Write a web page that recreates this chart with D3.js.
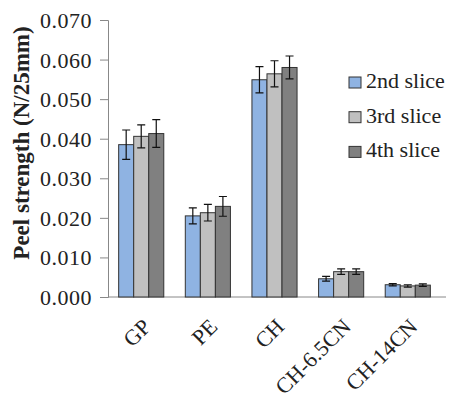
<!DOCTYPE html>
<html>
<head>
<meta charset="utf-8">
<script src="https://cdn.jsdelivr.net/npm/d3@7"></script>
<style>
  body { margin: 0; background: #fff; }
</style>
</head>
<body>
<div class="barchart"></div>
<script>
// chart data
const categories = ["GP", "PE", "CH", "CH-6.5CN", "CH-14CN"];
const seriesNames = ["2nd slice", "3rd slice", "4th slice"];
const slice2 = [0.0385, 0.0205, 0.0549, 0.0046, 0.0031];
const slice3 = [0.0406, 0.0213, 0.0564, 0.0064, 0.0028];
const slice4 = [0.0413, 0.0229, 0.0580, 0.0064, 0.0030];
const err2 = [0.0037, 0.0020, 0.0033, 0.0006, 0.0003];
const err3 = [0.0029, 0.0021, 0.0033, 0.0007, 0.0003];
const err4 = [0.0035, 0.0025, 0.0029, 0.0007, 0.0003];
const yTicks = [0, 0.01, 0.02, 0.03, 0.04, 0.05, 0.06, 0.07];

const colors = ["#8fb3e2", "#c0c0c0", "#808080"];
const values = [slice2, slice3, slice4];
const errors = [err2, err3, err4];

const width = 449, height = 395;
const serif = "'Liberation Serif', 'DejaVu Serif', serif";

let svg = d3.select(".barchart")
    .append("svg")
    .attr("width", width)
    .attr("height", height);

// scales
let xScale = d3.scaleBand()
    .domain(categories)
    .range([108, 441])
    .paddingInner(0.323)
    .paddingOuter(0.16);

let xSub = d3.scaleBand()
    .domain(seriesNames)
    .range([0, xScale.bandwidth()]);

let yScale = d3.scaleLinear()
    .domain([0, 0.07])
    .range([297, 20]);

// y axis
let yAxis = svg.append("g")
    .attr("transform", "translate(108,0)")
    .call(d3.axisLeft(yScale).tickValues(yTicks).tickFormat(d3.format(".3f")).tickSize(8).tickPadding(8));
yAxis.attr("font-family", null).attr("font-size", null);
yAxis.select(".domain").attr("stroke", "#888");
yAxis.selectAll(".tick line").attr("stroke", "#888");
yAxis.selectAll(".tick text")
    .style("font-family", serif)
    .style("font-size", "22px")
    .style("letter-spacing", "0.5px")
    .attr("fill", "#222")
    .attr("dy", "0.34em");

// x axis line
svg.append("line")
    .attr("x1", 108).attr("x2", 446)
    .attr("y1", yScale(0)).attr("y2", yScale(0))
    .attr("stroke", "#888");

// bars
let groups = svg.selectAll(".group")
    .data(categories)
    .enter()
    .append("g")
    .attr("class", "group")
    .attr("transform", d => "translate(" + xScale(d) + ",0)");

seriesNames.forEach(function(s, si){
    groups.append("rect")
        .attr("x", xSub(s))
        .attr("y", (d, i) => yScale(values[si][i]))
        .attr("width", xSub.bandwidth())
        .attr("height", (d, i) => yScale(0) - yScale(values[si][i]))
        .attr("fill", colors[si])
        .attr("stroke", "#333")
        .attr("stroke-width", 1);

    // error bars
    let cx = xSub(s) + xSub.bandwidth() / 2;
    groups.append("path")
        .attr("d", function(d, i){
            let top = yScale(values[si][i] + errors[si][i]);
            let bot = yScale(values[si][i] - errors[si][i]);
            return "M" + cx + "," + top + "V" + bot +
                "M" + (cx - 4) + "," + top + "H" + (cx + 4) +
                "M" + (cx - 4) + "," + bot + "H" + (cx + 4);
        })
        .attr("stroke", "#111")
        .attr("stroke-width", 1.2)
        .attr("fill", "none");
});

// x labels
svg.selectAll(".xlabel")
    .data(categories)
    .enter()
    .append("text")
    .attr("class", "xlabel")
    .attr("text-anchor", "end")
    .attr("transform", d => "translate(" + (xScale(d) + xScale.bandwidth() / 2 + 11) + ",328) rotate(-45)")
    .style("font-family", serif)
    .style("font-size", "22px")
    .attr("fill", "#222")
    .text(d => d);

// y title
svg.append("text")
    .attr("transform", "translate(29,143) rotate(-90)")
    .attr("text-anchor", "middle")
    .style("font-family", serif)
    .style("font-size", "23px")
    .style("font-weight", "bold")
    .attr("fill", "#222")
    .text("Peel strength (N/25mm)");

// legend
let legend = svg.selectAll(".legend")
    .data(seriesNames)
    .enter()
    .append("g")
    .attr("class", "legend")
    .attr("transform", (d, i) => "translate(349," + (77 + i * 34.7) + ")");
legend.append("rect")
    .attr("width", 12).attr("height", 11)
    .attr("fill", (d, i) => colors[i])
    .attr("stroke", "#333");
legend.append("text")
    .attr("x", 17).attr("y", 11)
    .style("font-family", serif)
    .style("font-size", "22px")
    .attr("fill", "#222")
    .text(d => d);
</script>
</body>
</html>
